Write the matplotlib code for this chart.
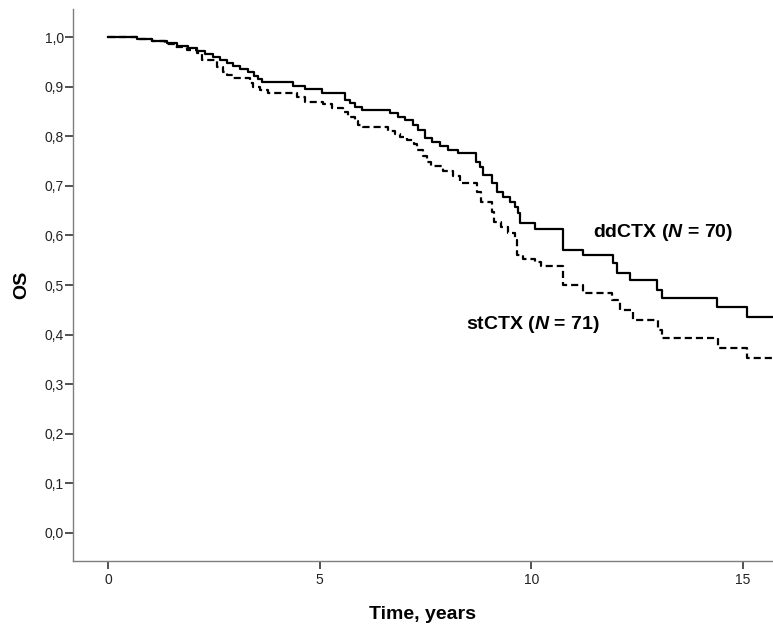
import matplotlib
matplotlib.use("Agg")
import matplotlib.pyplot as plt

plt.rcParams["font.family"] = ["Liberation Sans", "DejaVu Sans"]
plt.rcParams["mathtext.fontset"] = "custom"
plt.rcParams["mathtext.it"] = "Liberation Sans:italic:bold"
plt.rcParams["mathtext.rm"] = "Liberation Sans:bold"

# Kaplan-Meier steps: (time of drop, survival after drop)
dd_time = [0, 0.69, 1.04, 1.39, 1.63, 1.89, 2.10, 2.29, 2.48, 2.65, 2.81, 2.95, 3.12,
           3.31, 3.45, 3.54, 3.64, 4.37, 4.65, 5.06, 5.60, 5.72, 5.84, 6.00, 6.66,
           6.85, 7.02, 7.21, 7.32, 7.49, 7.65, 7.84, 8.03, 8.27, 8.69, 8.79, 8.86,
           9.07, 9.19, 9.33, 9.50, 9.61, 9.69, 9.73, 10.09, 10.75, 11.22, 11.93,
           12.02, 12.33, 12.97, 13.09, 14.39, 15.10, 15.75]
dd_surv = [1.000, 0.996, 0.992, 0.988, 0.982, 0.978, 0.972, 0.966, 0.960, 0.954, 0.948,
           0.942, 0.935, 0.929, 0.921, 0.915, 0.909, 0.901, 0.895, 0.887, 0.873, 0.867,
           0.859, 0.853, 0.847, 0.839, 0.833, 0.823, 0.813, 0.796, 0.788, 0.780, 0.772,
           0.766, 0.748, 0.738, 0.722, 0.706, 0.688, 0.677, 0.667, 0.657, 0.645, 0.625,
           0.613, 0.571, 0.560, 0.544, 0.524, 0.510, 0.490, 0.474, 0.456, 0.435, 0.435]

st_time = [0, 0.69, 1.04, 1.35, 1.58, 1.87, 2.10, 2.22, 2.58, 2.72, 2.81, 2.95, 3.35,
           3.43, 3.59, 3.78, 4.46, 4.65, 5.08, 5.29, 5.55, 5.67, 5.84, 5.91, 6.02,
           6.61, 6.78, 6.90, 7.06, 7.23, 7.30, 7.44, 7.54, 7.63, 7.91, 8.15, 8.32,
           8.72, 8.81, 9.07, 9.12, 9.28, 9.45, 9.61, 9.66, 9.80, 10.09, 10.23, 10.75,
           11.22, 11.91, 12.10, 12.40, 12.99, 13.09, 14.41, 15.10, 15.75]
st_surv = [1.000, 0.996, 0.992, 0.986, 0.980, 0.974, 0.968, 0.954, 0.940, 0.929, 0.923,
           0.917, 0.907, 0.899, 0.893, 0.887, 0.879, 0.869, 0.865, 0.857, 0.849, 0.839,
           0.831, 0.823, 0.819, 0.811, 0.804, 0.798, 0.792, 0.784, 0.772, 0.760, 0.748,
           0.740, 0.730, 0.720, 0.706, 0.688, 0.667, 0.647, 0.627, 0.617, 0.605, 0.591,
           0.561, 0.552, 0.546, 0.538, 0.500, 0.484, 0.470, 0.450, 0.429, 0.409, 0.393,
           0.373, 0.353, 0.353]

x_ticks = [0, 5, 10, 15]
y_ticks = [0.0, 0.1, 0.2, 0.3, 0.4, 0.5, 0.6, 0.7, 0.8, 0.9, 1.0]
y_labels = ["0,0", "0,1", "0,2", "0,3", "0,4", "0,5", "0,6", "0,7", "0,8", "0,9", "1,0"]

fig = plt.figure(figsize=(7.73, 6.30), dpi=100)
ax = fig.add_axes([0.0944, 0.1095, 0.9056, 0.8762])

ax.step(dd_time, dd_surv, where="post", color="black", lw=1.6)
ax.step(st_time, st_surv, where="post", color="black", lw=1.6, dashes=(3.2, 1.8))

ax.text(11.45, 0.605, "ddCTX ($N$ = 70)", fontsize=14, fontweight="bold",
        ha="left", va="center")
ax.text(8.45, 0.42, "stCTX ($N$ = 71)", fontsize=14, fontweight="bold",
        ha="left", va="center")

ax.set_xlim(-0.83, 15.71)
ax.set_ylim(-0.0565, 1.0565)
ax.set_xticks(x_ticks)
ax.set_yticks(y_ticks)
ax.set_yticklabels(y_labels)

for s in ["top", "right"]:
    ax.spines[s].set_visible(False)
for s in ["left", "bottom"]:
    ax.spines[s].set_color("#7f7f7f")
    ax.spines[s].set_linewidth(1.0)
ax.tick_params(axis="both", direction="out", length=5.5, width=1.2, color="#333333",
               labelsize=10, labelcolor="#222222")
ax.tick_params(axis="y", pad=1)
ax.tick_params(axis="x", pad=3)

ax.set_xlabel("Time, years", fontsize=14, fontweight="bold", labelpad=14)
ax.set_ylabel("OS", fontsize=14, fontweight="bold", labelpad=10)

fig.savefig("out.png", dpi=100)
